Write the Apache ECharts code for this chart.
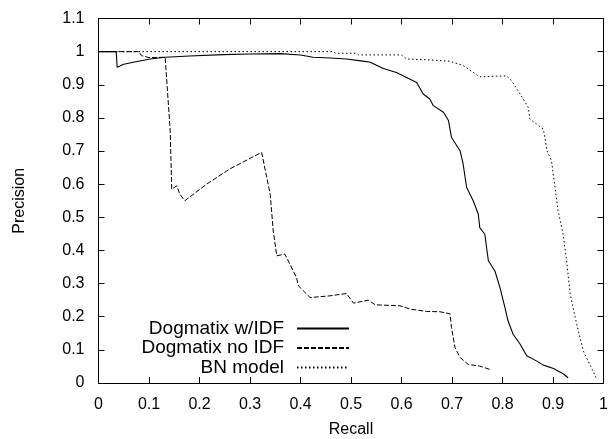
<!DOCTYPE html>
<html>
<head>
<meta charset="utf-8">
<script src="https://cdn.jsdelivr.net/npm/echarts@6/dist/echarts.min.js"></script>
<style>
html, body { margin: 0; padding: 0; background: #fff; }
#chart { width: 608px; height: 439px; }
</style>
</head>
<body>
<div id="chart"></div>
<script>
// recall / precision readings for each run
const idfRecall = [0, 0.035, 0.037, 0.05, 0.069, 0.102, 0.132, 0.18, 0.247, 0.3, 0.36, 0.4, 0.425, 0.46, 0.491, 0.52, 0.538, 0.564, 0.59, 0.61, 0.63, 0.643, 0.656, 0.663, 0.683, 0.693, 0.699, 0.716, 0.722, 0.729, 0.742, 0.752, 0.755, 0.765, 0.772, 0.785, 0.795, 0.805, 0.811, 0.821, 0.835, 0.848, 0.868, 0.881, 0.901, 0.92, 0.93];
const idfPrecision = [1, 1, 0.953, 0.962, 0.968, 0.978, 0.983, 0.987, 0.991, 0.993, 0.994, 0.99, 0.983, 0.981, 0.978, 0.972, 0.968, 0.949, 0.937, 0.922, 0.907, 0.872, 0.857, 0.837, 0.817, 0.792, 0.741, 0.701, 0.661, 0.59, 0.55, 0.51, 0.469, 0.449, 0.369, 0.338, 0.288, 0.227, 0.187, 0.147, 0.117, 0.082, 0.066, 0.054, 0.044, 0.028, 0.016];

const noIdfRecall = [0, 0.08, 0.085, 0.1, 0.132, 0.142, 0.145, 0.155, 0.161, 0.171, 0.214, 0.26, 0.323, 0.326, 0.34, 0.346, 0.353, 0.369, 0.379, 0.392, 0.396, 0.419, 0.458, 0.491, 0.505, 0.534, 0.548, 0.597, 0.617, 0.65, 0.676, 0.696, 0.699, 0.706, 0.716, 0.732, 0.755, 0.775];
const noIdfPrecision = [1, 1, 0.988, 0.982, 0.983, 0.761, 0.585, 0.595, 0.57, 0.55, 0.6, 0.646, 0.696, 0.69, 0.57, 0.459, 0.384, 0.389, 0.359, 0.318, 0.293, 0.258, 0.263, 0.27, 0.241, 0.25, 0.236, 0.233, 0.223, 0.216, 0.215, 0.209, 0.167, 0.107, 0.077, 0.056, 0.051, 0.041];

const bnRecall = [0, 0.465, 0.47, 0.511, 0.515, 0.6, 0.61, 0.656, 0.696, 0.722, 0.755, 0.808, 0.818, 0.835, 0.851, 0.854, 0.881, 0.888, 0.897, 0.904, 0.91, 0.92, 0.927, 0.934, 0.944, 0.96, 0.987];
const bnPrecision = [1, 1, 0.995, 0.995, 0.99, 0.99, 0.978, 0.975, 0.971, 0.958, 0.924, 0.927, 0.912, 0.872, 0.832, 0.797, 0.766, 0.701, 0.671, 0.59, 0.52, 0.449, 0.369, 0.268, 0.197, 0.097, 0.011];

const seriesNames = ['Dogmatix w/IDF', 'Dogmatix no IDF', 'BN model'];

const zip = (xs, ys) => xs.map((x, i) => [x, ys[i]]);

const font = 'Liberation Sans, Arial, Helvetica, sans-serif';
const black = '#000';

const chart = echarts.init(document.getElementById('chart'));

const axisBase = {
    type: 'value',
    axisLine: { show: true, lineStyle: { color: black, width: 1 } },
    axisTick: { show: true, inside: true, length: 6, lineStyle: { color: black } },
    splitLine: { show: false },
    axisLabel: { color: black, fontFamily: font, fontSize: 16, margin: 14 }
};

const mirror = {
    type: 'value',
    axisLine: { show: true, onZero: false, lineStyle: { color: black, width: 1 } },
    axisTick: { show: true, inside: true, length: 6, lineStyle: { color: black } },
    axisLabel: { show: false },
    splitLine: { show: false }
};

const lineSeries = function (name, xs, ys, type, width) {
    return {
        name: name,
        type: 'line',
        data: zip(xs, ys),
        showSymbol: false,
        symbol: 'none',
        animation: false,
        lineStyle: { color: black, width: width, type: type },
        itemStyle: { color: black }
    };
};

chart.setOption({
    backgroundColor: '#fff',
    animation: false,
    // keep the plot box fixed, names may sit near the edge
    grid: { left: 98.5, right: 4.5, top: 18.5, bottom: 56, outerBoundsMode: 'none' },
    legend: {
        orient: 'vertical',
        align: 'right',
        right: 258,
        top: 319,
        padding: 0,
        itemWidth: 52,
        itemHeight: 14,
        itemGap: 0.5,
        // hide the marker dot that line legends draw by default
        itemStyle: { color: 'transparent', borderColor: 'transparent', borderWidth: 0 },
        textStyle: { color: black, fontFamily: font, fontSize: 19, lineHeight: 16, padding: [0, 8, 0, 0] },
        data: seriesNames
    },
    xAxis: [
        Object.assign({}, axisBase, {
            min: 0, max: 1, interval: 0.1,
            name: 'Recall',
            nameLocation: 'middle',
            nameGap: 39,
            nameTextStyle: { color: black, fontFamily: font, fontSize: 16 }
        }),
        Object.assign({}, mirror, { position: 'top', min: 0, max: 1, interval: 0.1 })
    ],
    yAxis: [
        Object.assign({}, axisBase, {
            min: 0, max: 1.1, interval: 0.1,
            name: 'Precision',
            nameLocation: 'middle',
            nameGap: 71,
            nameTextStyle: { color: black, fontFamily: font, fontSize: 16 }
        }),
        Object.assign({}, mirror, { position: 'right', min: 0, max: 1.1, interval: 0.1 })
    ],
    series: [
        lineSeries(seriesNames[0], idfRecall, idfPrecision, 'solid', 1.1),
        lineSeries(seriesNames[1], noIdfRecall, noIdfPrecision, [5, 2], 1),
        lineSeries(seriesNames[2], bnRecall, bnPrecision, [1.5, 2.5], 1)
    ]
});
</script>
</body>
</html>
